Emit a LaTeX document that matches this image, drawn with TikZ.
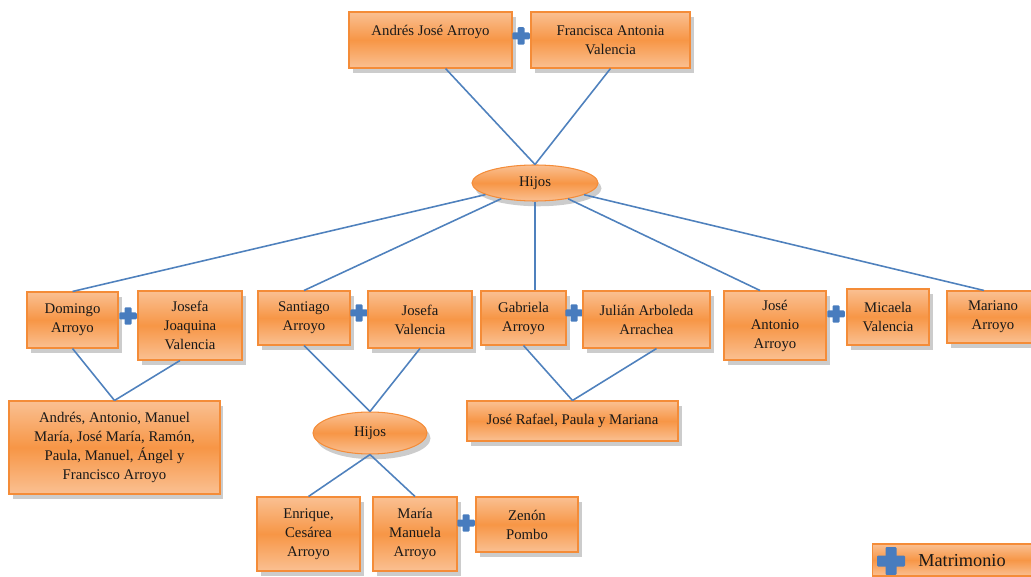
\documentclass[tikz,border=0pt]{standalone}
\usepackage{fontspec}
\setmainfont{Liberation Serif}
\usetikzlibrary{
    shapes.geometric,
    shadows,
    positioning
}
\definecolor{orangemid}{RGB}{247,150,70}
\definecolor{orangelight}{RGB}{250,192,146}
\definecolor{orangeline}{RGB}{244,140,56}
\definecolor{linkblue}{RGB}{79,129,189}
\definecolor{plusblue}{RGB}{72,124,190}

\begin{document}
\begin{tikzpicture}[
        x=0.02cm, y=-0.02cm,
        person/.style={draw=orangeline, line width=0.6pt, top color=orangelight, bottom color=orangelight, middle color=orangemid,
            drop shadow={shadow xshift=2pt, shadow yshift=-3pt, opacity=0.4},
            align=center, inner sep=2pt, font=\fontsize{8.4}{10.8}\selectfont, text=black!90},
        hijosnode/.style={person, ellipse, inner sep=0pt},
        link/.style={draw=linkblue, line width=0.9pt},
        plusshape/.style={path picture={
            \fill[plusblue, rounded corners=0.6pt] ([xshift=-#1]path picture bounding box.south) rectangle ([xshift=#1]path picture bounding box.north);
            \fill[plusblue, rounded corners=0.6pt] ([yshift=-#1]path picture bounding box.west) rectangle ([yshift=#1]path picture bounding box.east);}},
        plus/.style={minimum size=0.35cm, inner sep=0pt, plusshape=0.07cm},
        bigplus/.style={minimum size=0.56cm, inner sep=0pt, plusshape=0.11cm}
    ]
        \useasboundingbox (0,0) rectangle (1031,577);

        % Parents
        \node[person, minimum width=3.26cm, minimum height=1.12cm] (andres) at (430.5, 40) {Andrés José Arroyo\\\phantom{Valencia}};
        \node[person, minimum width=3.18cm, minimum height=1.12cm] (francisca) at (610.5, 40) {Francisca Antonia\\Valencia};
        \node[plus] (plusparents) at (521, 36) {};

        \node[hijosnode, minimum width=2.52cm, minimum height=0.72cm] (hijos) at (535, 183) {Hijos};

        % Children and spouses
        \node[person, minimum width=1.82cm, minimum height=1.12cm] (domingo) at (72.5, 320) {Domingo\\Arroyo};
        \node[plus] (plusdomingo) at (128, 316) {};
        \node[person, minimum width=2.08cm, minimum height=1.38cm] (josefaj) at (190, 325.5) {Josefa\\Joaquina\\Valencia};

        \node[person, minimum width=1.84cm, minimum height=1.08cm] (santiago) at (304, 318) {Santiago\\Arroyo};
        \node[plus] (plussantiago) at (359, 313) {};
        \node[person, minimum width=2.08cm, minimum height=1.14cm] (josefav) at (420, 319.5) {Josefa\\Valencia};

        \node[person, minimum width=1.70cm, minimum height=1.08cm] (gabriela) at (523.5, 318) {Gabriela\\Arroyo};
        \node[plus] (plusgabriela) at (574, 313) {};
        \node[person, minimum width=2.54cm, minimum height=1.14cm] (julian) at (646.5, 319.5) {Julián Arboleda\\Arrachea};

        \node[person, minimum width=2.04cm, minimum height=1.38cm] (joseantonio) at (775, 325.5) {José\\Antonio\\Arroyo};
        \node[plus] (plusjose) at (836, 314) {};
        \node[person, minimum width=1.64cm, minimum height=1.12cm] (micaela) at (888, 317) {Micaela\\Valencia};

        \node[person, minimum width=1.84cm, minimum height=1.04cm] (mariano) at (993, 317) {Mariano\\Arroyo};

        % Grandchildren
        \node[person, minimum width=4.22cm, minimum height=1.86cm] (hermanos) at (114.5, 447.5) {Andrés, Antonio, Manuel\\María, José María, Ramón,\\Paula, Manuel, Ángel y\\Francisco Arroyo};

        \node[hijosnode, minimum width=2.28cm, minimum height=0.84cm] (hijos2) at (370, 433) {Hijos};
        \node[person, minimum width=2.06cm, minimum height=1.48cm] (enrique) at (308.5, 534) {Enrique,\\Cesárea\\Arroyo};
        \node[person, minimum width=1.68cm, minimum height=1.48cm] (maria) at (415, 534) {María\\Manuela\\Arroyo};
        \node[plus] (pluszenon) at (466, 523) {};
        \node[person, minimum width=2.04cm, minimum height=1.10cm] (zenon) at (527, 524.5) {Zenón\\Pombo};

        \node[person, minimum width=4.22cm, minimum height=0.80cm] (rafael) at (572.5, 421) {José Rafael, Paula y Mariana};

        % Legend
        \node[person, anchor=west, minimum width=4cm, minimum height=0.64cm] (legend) at (872, 560) {};
        \node[bigplus] (legendplus) at (891, 561) {};
        \node[font=\fontsize{10.4}{12}\selectfont, text=black!90] (matrimonio) at (962, 561) {Matrimonio};

        % Lines
        \draw[link] ([xshift=0.3cm]andres.south) -- (hijos.north);
        \draw[link] (francisca.south) -- (hijos.north);

        \draw[link] (hijos) -- (domingo.north);
        \draw[link] (hijos) -- (santiago.north);
        \draw[link] (hijos.south) -- (hijos.south |- gabriela.north);
        \draw[link] (hijos) -- ([xshift=-0.3cm]joseantonio.north);
        \draw[link] (hijos) -- ([xshift=-0.18cm]mariano.north);

        \draw[link] (domingo.south) -- (hermanos.north);
        \draw[link] ([xshift=-0.2cm]josefaj.south) -- (hermanos.north);

        \draw[link] (santiago.south) -- (hijos2.north);
        \draw[link] (josefav.south) -- (hijos2.north);
        \draw[link] (hijos2.south) -- (enrique.north);
        \draw[link] (hijos2.south) -- (maria.north);

        \draw[link] (gabriela.south) -- (rafael.north);
        \draw[link] ([xshift=0.2cm]julian.south) -- (rafael.north);
    \end{tikzpicture}
\end{document}
